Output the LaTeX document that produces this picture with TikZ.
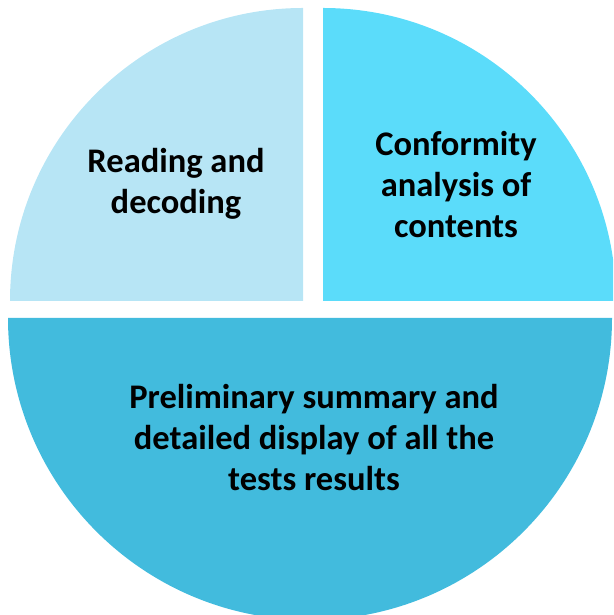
\documentclass[tikz,border=0pt]{standalone}
\usepackage{fontspec}
\setmainfont{Carlito}
\definecolor{pieA}{RGB}{183,229,245}
\definecolor{pieB}{RGB}{91,220,250}
\definecolor{pieC}{RGB}{66,187,221}
\begin{document}
\begin{tikzpicture}[
  lbl/.style={align=center, inner sep=0pt, anchor=base, text=black,
    font=\fontsize{34.5}{41}\selectfont\bfseries}
]
\useasboundingbox (0,0) rectangle (613pt,615pt);
\clip (0,0) rectangle (613pt,615pt);
% top-left quarter
\fill[pieA] (303pt,314pt) -- ++(-293pt,0) arc[start angle=180,end angle=90,radius=293pt] -- cycle;
% top-right quarter
\fill[pieB] (323pt,314pt) -- ++(0,293pt) arc[start angle=90,end angle=0,radius=293pt] -- cycle;
% bottom half
\fill[pieC] (8pt,297pt) arc[start angle=180,end angle=360,radius=302pt] -- cycle;
\node[lbl] (read) at (176pt,401pt) {Reading and\\decoding};
\node[lbl] (conf) at (456pt,377pt) {Conformity\\analysis of\\contents};
\node[lbl] (prel) at (314pt,124pt) {Preliminary summary and\\detailed display of all the\\tests results};
\end{tikzpicture}
\end{document}
